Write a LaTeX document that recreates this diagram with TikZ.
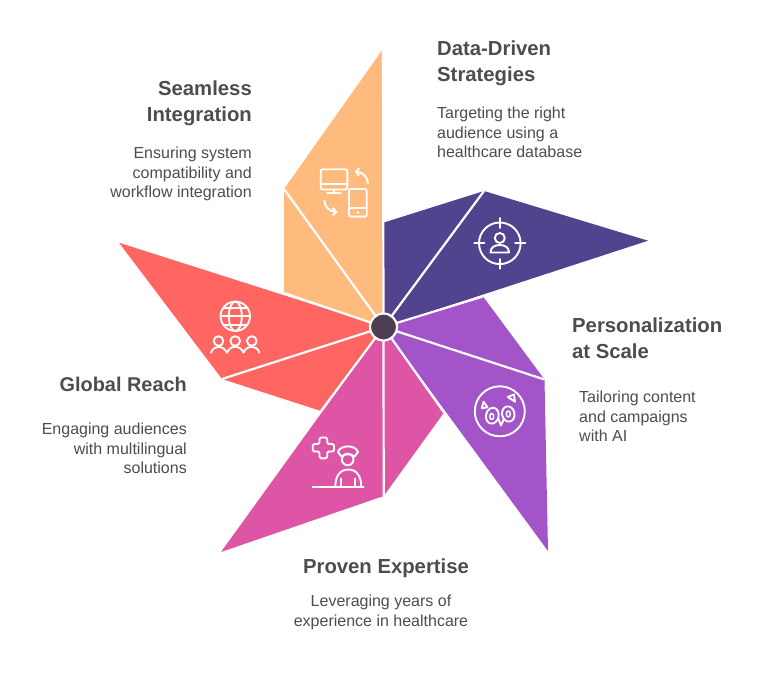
\documentclass[tikz,border=0pt]{standalone}
\usepackage{fontspec}
\setmainfont{Liberation Sans}
\usetikzlibrary{arrows.meta}
\definecolor{cOrange}{HTML}{FFBB7E}
\definecolor{cIndigo}{HTML}{52438F}
\definecolor{cPurple}{HTML}{A254C8}
\definecolor{cPink}{HTML}{DE55A6}
\definecolor{cRed}{HTML}{FF6661}
\definecolor{cHub}{HTML}{4F3D54}
\definecolor{cText}{HTML}{4D4D4D}
\tikzset{
  x=1pt,y=-1pt,
  sep/.style={draw=white,line width=2.2pt},
  icon/.style={draw=white,line width=1.9pt,line cap=round,line join=round},
  barb/.style={-{Straight Barb[length=3.5pt,width=7.5pt,line width=1.9pt]}},
  head/.style={text=cText,font=\fontsize{20.3}{26}\selectfont\bfseries,inner sep=0pt},
  body/.style={text=cText,font=\fontsize{16}{19.3}\selectfont,inner sep=0pt},
}
\begin{document}
\begin{tikzpicture}
\useasboundingbox (0,0) rectangle (768,700);
\fill[white] (0,0) rectangle (768,700);
% coordinates
\coordinate (c) at (383.5,327);
\coordinate (o1) at (383,49);   \coordinate (o2) at (284,189);  \coordinate (o3) at (284,293);
\coordinate (d1) at (384,222.5);\coordinate (d2) at (484,191);  \coordinate (d3) at (648,240.7);
\coordinate (p1) at (483,296.5);\coordinate (p2) at (544.5,379.5);\coordinate (p3) at (548,551);
\coordinate (k1) at (444,412.5);\coordinate (k2) at (383.7,496);\coordinate (k3) at (221,552);
\coordinate (r1) at (321,411);  \coordinate (r2) at (222,379);  \coordinate (r3) at (119,242.7);
% petals
\fill[cOrange] (o1)--(o2)--(o3)--(c)--cycle;
\fill[cIndigo] (d1)--(d2)--(d3)--(c)--cycle;
\fill[cPurple] (p1)--(p2)--(p3)--(c)--cycle;
\fill[cPink]   (k1)--(k2)--(k3)--(c)--cycle;
\fill[cRed]    (r1)--(r2)--(r3)--(c)--cycle;
% separators
\foreach \q in {o1,o2,o3,d2,p1,p2,k1,k2,r1,r2}{\draw[sep] (c)--(\q);}
% hub
\node (hub) at (c) [circle,fill=cHub,draw=white,line width=2.2pt,minimum size=27pt,inner sep=0pt] {};
% monitor + phone icon
\draw[icon,rounded corners=2pt] (320.7,169.3) rectangle (347.3,189.5);
\draw[icon] (320.7,184)--(347.3,184) (334,189.5)--(334,193.3) (327,193.3)--(340.7,193.3);
\draw[icon,rounded corners=2pt] (349,189) rectangle (366.7,216.7);
\draw[icon] (349,208.3)--(366.7,208.3);
\fill[white] (357.8,212.5) circle (1.5pt);
\draw[icon,barb] (368,183.3) .. controls (367.5,176.5) and (362,172) .. (354.5,171.7);
\draw[icon,barb] (324.3,200.7) .. controls (324.5,207) and (330,211.7) .. (337.5,211.7);
% target icon
\draw[icon] (499.8,243.3) circle (20.8pt);
\draw[icon] (499.8,218)--(499.8,228) (499.8,259)--(499.8,268.7) (474.3,243.3)--(484.5,243.3) (515,243.3)--(525.5,243.3);
\draw[icon] (499.8,238) circle (5pt);
\draw[icon] (490.5,252.5) .. controls (490.5,247.5) and (494.5,245) .. (499.8,245) .. controls (505,245) and (509,247.5) .. (509,252.5) -- cycle;
% owl icon
\draw[icon] (499.8,411.3) circle (25pt);
\draw[icon,rotate around={-12:(492.3,415.7)}] (492.3,415.7) ellipse (6.3pt and 8pt);
\draw[icon,rotate around={12:(508.3,414)}] (508.3,414) ellipse (6.2pt and 7.7pt);
\draw[icon,line width=1.5pt] (491.7,416.5) ellipse (2pt and 3pt) (508.3,414) ellipse (2pt and 3pt);
\draw[icon] (483.5,401.7)--(487.5,407.3)--(481.7,408.3)--cycle;
\draw[icon] (507.7,397)--(514,394.5)--(515,401.7)--cycle;
\draw[icon] (498.3,418.5)--(501,425.5)--(504,418.5);
% nurse icon
\draw[icon,rounded corners=1.5pt] (319.5,437.5)--(327.2,437.5)--(327.2,444)--(334,444)--(334,451.5)--(327.2,451.5)--(327.2,458.3)--(319.5,458.3)--(319.5,451.5)--(312.7,451.5)--(312.7,444)--(319.5,444)--cycle;
\draw[icon] (312.7,487.3)--(363.7,487.3);
\draw[icon] (335.3,487) .. controls (335.3,476) and (340,469.5) .. (348.3,469.5) .. controls (356.6,469.5) and (361.3,476) .. (361.3,487);
\draw[icon] (341,478.5)--(341,487) (355,478.5)--(355,487);
\draw[icon] (347.7,459.5) circle (5.8pt);
\draw[icon] (337.9,452) .. controls (340.5,444.5) and (355.5,444.5) .. (358,452) -- (354.5,456.5) .. controls (351,453.5) and (345,453.5) .. (341.5,456.5) -- cycle;
% globe icon
\draw[icon] (235.3,316.3) circle (14.7pt);
\draw[icon] (235.3,316.3) ellipse (6.5pt and 14.7pt);
\draw[icon] (220.6,316.3)--(250,316.3);
\draw[icon] (223.5,307.8)--(247.1,307.8) (223.5,324.8)--(247.1,324.8);
\foreach \h in {218.5,235.2,251.8}{\draw[icon] (\h,341) circle (4.8pt);}
\draw[icon] (211,352.7) .. controls (212.5,348.5) and (215.5,346.8) .. (218.5,346.8) .. controls (222,346.8) and (225,349) .. (227,352.7)
  .. controls (228.5,349) and (231.5,346.8) .. (235.2,346.8) .. controls (239,346.8) and (242,349) .. (243.5,352.7)
  .. controls (245,349) and (248,346.8) .. (251.8,346.8) .. controls (255,346.8) and (258,348.5) .. (259.4,352.7);
% labels
\node[head,anchor=north west,align=left] (t1) at (437,41) {Data-Driven\\Strategies};
\node[body,anchor=north west,align=left] (b1) at (437,107) {Targeting the right\\audience using a\\healthcare database};
\node[head,anchor=north east,align=right] (t2) at (252,80.5) {Seamless\\Integration};
\node[body,anchor=north east,align=right] (b2) at (252,147) {Ensuring system\\compatibility and\\workflow integration};
\node[head,anchor=north west,align=left] (t3) at (572,318) {Personalization\\at Scale};
\node[body,anchor=north west,align=left] (b3) at (579,391) {Tailoring content\\and campaigns\\with AI};
\node[head,anchor=north] (t4) at (386,559) {Proven Expertise};
\node[body,anchor=north,align=center] (b4) at (381,595) {Leveraging years of\\experience in healthcare};
\node[head,anchor=north east,font=\fontsize{19.9}{26}\selectfont\bfseries] (t5) at (187,377) {Global Reach};
\node[body,anchor=north east,align=right] (b5) at (187,423) {Engaging audiences\\with multilingual\\solutions};
\end{tikzpicture}
\end{document}
